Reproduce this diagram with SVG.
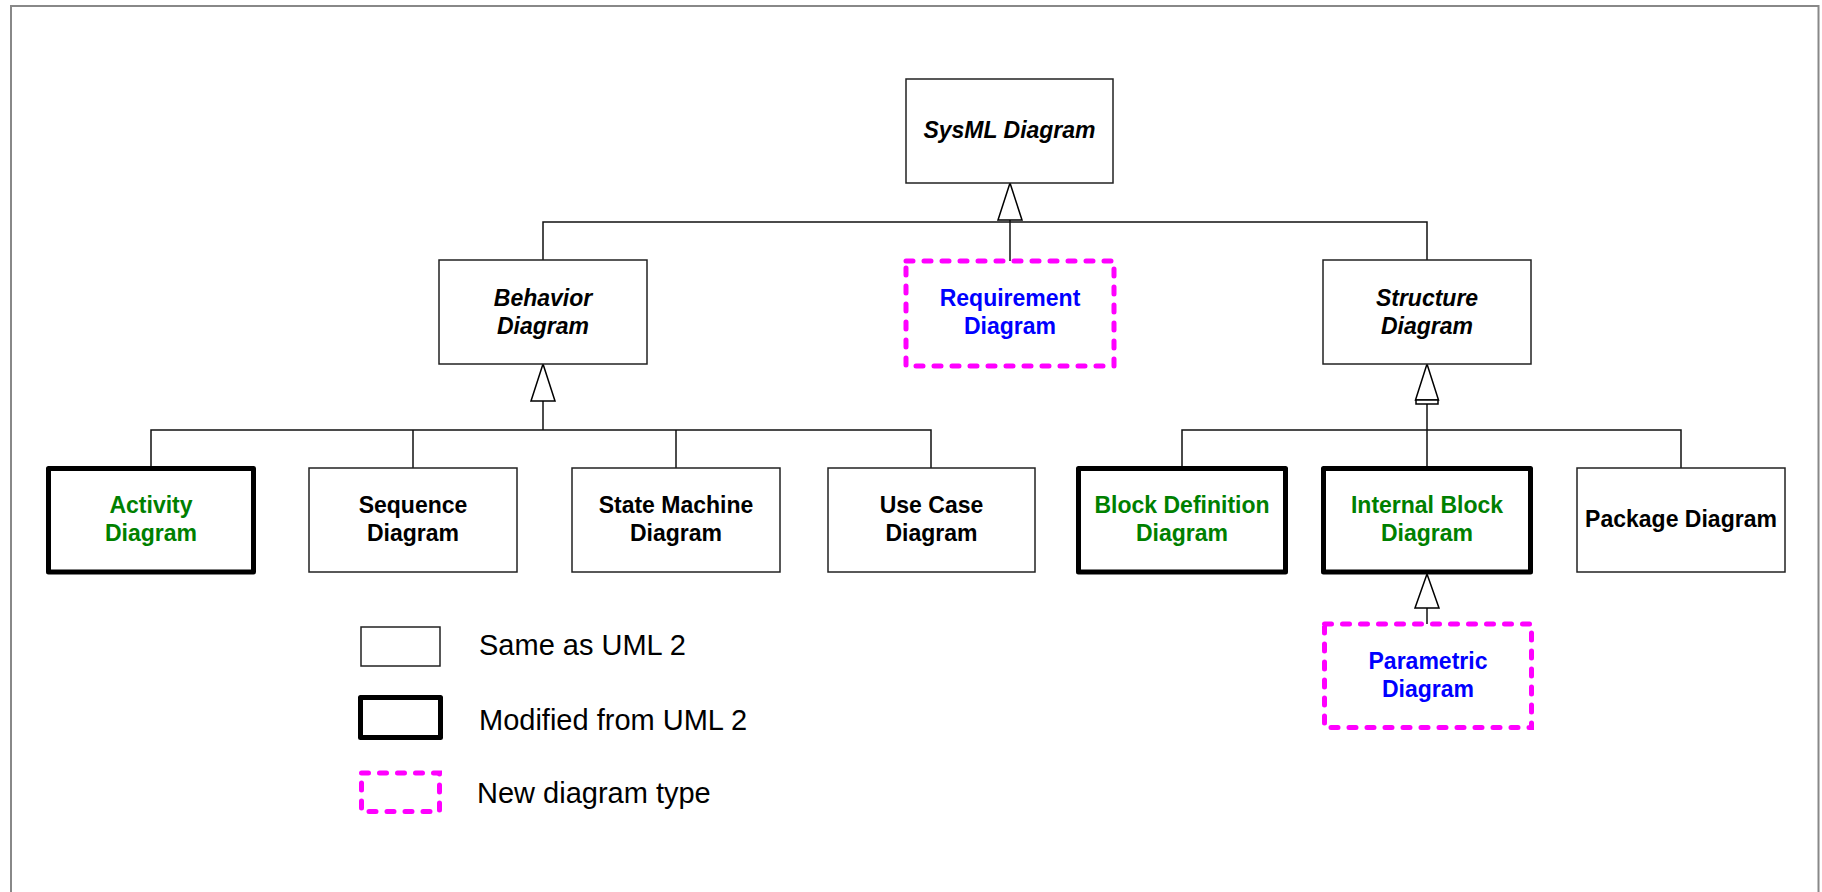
<svg xmlns="http://www.w3.org/2000/svg" width="1822" height="892" viewBox="0 0 1822 892">
  <style>
    .box { fill: #ffffff; stroke: #222222; stroke-width: 1.5; }
    .mod { fill: #ffffff; stroke: #000000; stroke-width: 5; stroke-linejoin: round; }
    .new { fill: #ffffff; stroke: #ff00ff; stroke-width: 5; stroke-dasharray: 7 11; stroke-linecap: round; }
    .lbl { font-family: "Liberation Sans", Arial, sans-serif; font-size: 23px; font-weight: bold; text-anchor: middle; fill: #000000; }
    .abs { font-style: italic; }
    .green { fill: #008000; }
    .blue { fill: #0000ff; }
    .legend { font-family: "Liberation Sans", Arial, sans-serif; font-size: 29px; fill: #000000; }
    .wire { fill: none; stroke: #111111; stroke-width: 1.5; }
    .head { fill: #ffffff; stroke: #000000; stroke-width: 1.5; stroke-linejoin: miter; }
  </style>

  <!-- outer frame -->
  <rect x="11" y="6" width="1807.5" height="920" fill="#ffffff" stroke="#888888" stroke-width="2"/>

  <!-- generalization connectors -->
  <g id="connectors">
    <path class="wire" d="M543,260 V222 H1427 V260"/>
    <path class="wire" d="M1010,220 V261"/>
    <polygon class="head" points="1010,183 998,220 1022,220"/>

    <path class="wire" d="M543,401 V430"/>
    <path class="wire" d="M151,468 V430 H931 V468"/>
    <path class="wire" d="M413,430 V468"/>
    <path class="wire" d="M676,430 V468"/>
    <polygon class="head" points="543,364 531,401 555,401"/>

    <path class="wire" d="M1427,404 V468"/>
    <path class="wire" d="M1182,468 V430 H1681 V468"/>
    <polygon class="head" points="1427,364 1415.5,400 1438.5,400"/>
    <rect class="head" x="1416" y="400" width="22" height="4"/>

    <path class="wire" d="M1427,608 V624"/>
    <polygon class="head" points="1427,574 1415,608 1439,608"/>
  </g>

  <g id="sysml-diagram">
    <rect class="box" x="906" y="79" width="207" height="104"/>
    <text class="lbl abs" x="1009.5" y="138">SysML Diagram</text>
  </g>

  <g id="behavior-diagram">
    <rect class="box" x="439" y="260" width="208" height="104"/>
    <text class="lbl abs" x="543" y="306">Behavior</text>
    <text class="lbl abs" x="543" y="334">Diagram</text>
  </g>

  <g id="requirement-diagram">
    <rect class="new" x="906" y="261" width="208" height="105"/>
    <text class="lbl blue" x="1010" y="306">Requirement</text>
    <text class="lbl blue" x="1010" y="334">Diagram</text>
  </g>

  <g id="structure-diagram">
    <rect class="box" x="1323" y="260" width="208" height="104"/>
    <text class="lbl abs" x="1427" y="306">Structure</text>
    <text class="lbl abs" x="1427" y="334">Diagram</text>
  </g>

  <g id="activity-diagram">
    <rect class="mod" x="48.5" y="468.5" width="205" height="103.5"/>
    <text class="lbl green" x="151" y="513">Activity</text>
    <text class="lbl green" x="151" y="541">Diagram</text>
  </g>

  <g id="sequence-diagram">
    <rect class="box" x="309" y="468" width="208" height="104"/>
    <text class="lbl" x="413" y="513">Sequence</text>
    <text class="lbl" x="413" y="541">Diagram</text>
  </g>

  <g id="state-machine-diagram">
    <rect class="box" x="572" y="468" width="208" height="104"/>
    <text class="lbl" x="676" y="513">State Machine</text>
    <text class="lbl" x="676" y="541">Diagram</text>
  </g>

  <g id="use-case-diagram">
    <rect class="box" x="828" y="468" width="207" height="104"/>
    <text class="lbl" x="931.5" y="513">Use Case</text>
    <text class="lbl" x="931.5" y="541">Diagram</text>
  </g>

  <g id="block-definition-diagram">
    <rect class="mod" x="1078.5" y="468.5" width="207" height="103.5"/>
    <text class="lbl green" x="1182" y="513">Block Definition</text>
    <text class="lbl green" x="1182" y="541">Diagram</text>
  </g>

  <g id="internal-block-diagram">
    <rect class="mod" x="1323.5" y="468.5" width="207" height="103.5"/>
    <text class="lbl green" x="1427" y="513">Internal Block</text>
    <text class="lbl green" x="1427" y="541">Diagram</text>
  </g>

  <g id="package-diagram">
    <rect class="box" x="1577" y="468" width="208" height="104"/>
    <text class="lbl" x="1681" y="527">Package Diagram</text>
  </g>

  <g id="parametric-diagram">
    <rect class="new" x="1324.5" y="624" width="207" height="103.5"/>
    <text class="lbl blue" x="1428" y="669">Parametric</text>
    <text class="lbl blue" x="1428" y="697">Diagram</text>
  </g>

  <!-- legend -->
  <g id="legend">
    <rect class="box" x="361" y="627" width="79" height="39"/>
    <text class="legend" x="479" y="655">Same as UML 2</text>
    <rect class="mod" x="360.5" y="697.5" width="80" height="40"/>
    <text class="legend" x="479" y="730">Modified from UML 2</text>
    <rect class="new" x="361.5" y="773" width="78" height="38.5"/>
    <text class="legend" x="477" y="803">New diagram type</text>
  </g>
</svg>
